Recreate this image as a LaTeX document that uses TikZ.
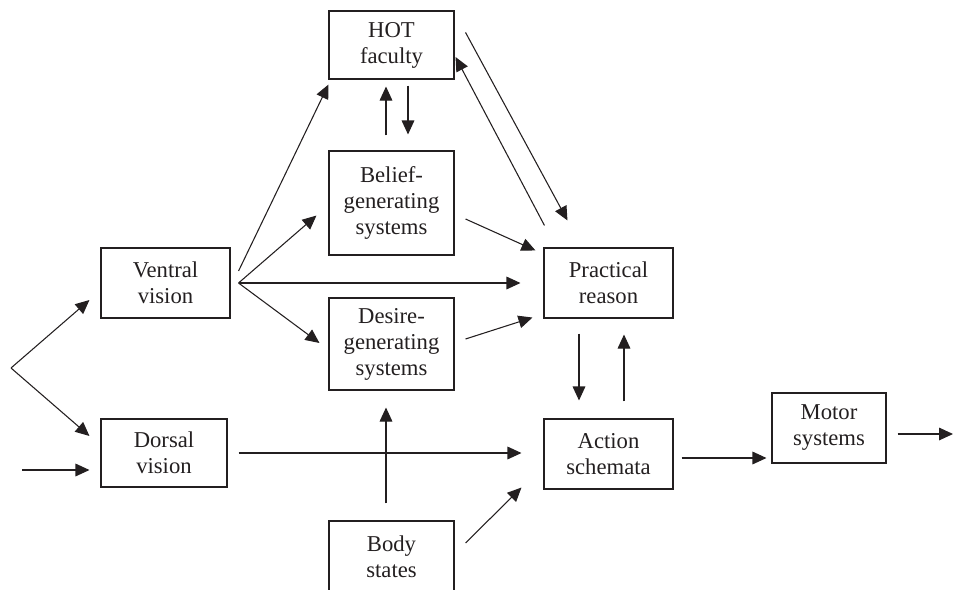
\documentclass[tikz,border=0pt]{standalone}
\usepackage{fontspec}
\setmainfont{Liberation Serif}
\usetikzlibrary{arrows.meta,calc}
\definecolor{ink}{RGB}{35,31,32}

\begin{document}
\begin{tikzpicture}[x=0.75pt,y=-0.75pt,
    box/.style={draw=ink, line width=0.8pt, align=center, inner sep=0pt,
        text=ink, font=\fontsize{17}{19.5}\selectfont},
    link/.style={draw=ink, line width=0.8pt, -{Triangle[length=10.5pt,width=9.5pt]}}]
        \useasboundingbox (0,0) rectangle (953,589);

        % dessin des boites
        \node[box, minimum width=93.75pt, minimum height=51pt] (hot) at (391.5,45) {HOT\\faculty};
        \node[box, minimum width=93.75pt, minimum height=78pt] (belief) at (391.5,203) {Belief-\\generating\\systems};
        \node[box, minimum width=96.75pt, minimum height=52.5pt] (ventral) at (165.5,283) {Ventral\\vision};
        \node[box, minimum width=96.75pt, minimum height=52.5pt] (practical) at (608.5,283) {Practical\\reason};
        \node[box, minimum width=93.75pt, minimum height=69pt] (desire) at (391.5,344) {Desire-\\generating\\systems};
        \node[box, minimum width=94.5pt, minimum height=51pt] (dorsal) at (164,453) {Dorsal\\vision};
        \node[box, minimum width=96.75pt, minimum height=52.5pt] (action) at (608.5,454) {Action\\schemata};
        \node[box, minimum width=85.5pt, minimum height=52.5pt] (motor) at (829,428) {Motor\\systems};
        \node[box, minimum width=93.75pt, minimum height=54pt] (body) at (391.5,557) {Body\\states};

        % bouts libres
        \coordinate (split) at (11,368);
        \coordinate (input) at (22,470);
        \coordinate (output) at (953,434);

        % entrees de la vision
        \draw[link] (split) -- ($(ventral.west)+(-11,17)$);
        \draw[link] (split) -- ($(dorsal.west)+(-11,-17)$);
        \draw[link] (input) -- ($(dorsal.west)+(-11,17)$);

        % sorties de la vision ventrale
        \draw[link] ($(ventral.east)+(8,-12)$) -- ($(hot.south west)+(0,5)$);
        \draw[link] ($(ventral.east)+(8,0)$) -- ($(belief.south west)+(-12,-40)$);
        \draw[link] ($(ventral.east)+(8,0)$) -- ($(practical.west)+(-23,0)$);
        \draw[link] ($(ventral.east)+(8,0)$) -- ($(desire.west)+(-9,-1)$);

        % liens autour de HOT
        \draw[link] ($(belief.north)+(-5.5,-15)$) -- ($(hot.south)+(-5.5,7)$);
        \draw[link] ($(hot.south)+(16.5,6)$) -- ($(belief.north)+(16.5,-16)$);
        \draw[link] ($(hot.north east)+(11,22)$) -- ($(practical.north west)+(24,-27)$);
        \draw[link] ($(practical.north west)+(1,-22)$) -- ($(hot.east)+(1,12)$);

        % vers practical reason
        \draw[link] ($(belief.east)+(11,16)$) -- ($(practical.north west)+(-8,3)$);
        \draw[link] ($(desire.east)+(11,-5)$) -- ($(practical.south west)+(-11,-1)$);
        \draw[link] ($(practical.south)+(-29.5,15)$) -- ($(action.north)+(-29.5,-18)$);
        \draw[link] ($(action.north)+(15.5,-17)$) -- ($(practical.south)+(15.5,16)$);

        % vers action schemata
        \draw[link] ($(dorsal.east)+(11,0)$) -- ($(action.west)+(-22,-1)$);
        \draw[link] ($(body.north)+(-5.5,-17)$) -- ($(desire.south)+(-5.5,17)$);
        \draw[link] ($(body.east)+(11,-14)$) -- ($(action.south west)+(-22,-2)$);

        % sortie motrice
        \draw[link] ($(action.east)+(8,4)$) -- ($(motor.west)+(-5,30)$);
        \draw[link] ($(motor.east)+(11,6)$) -- (output);
    \end{tikzpicture}
\end{document}
